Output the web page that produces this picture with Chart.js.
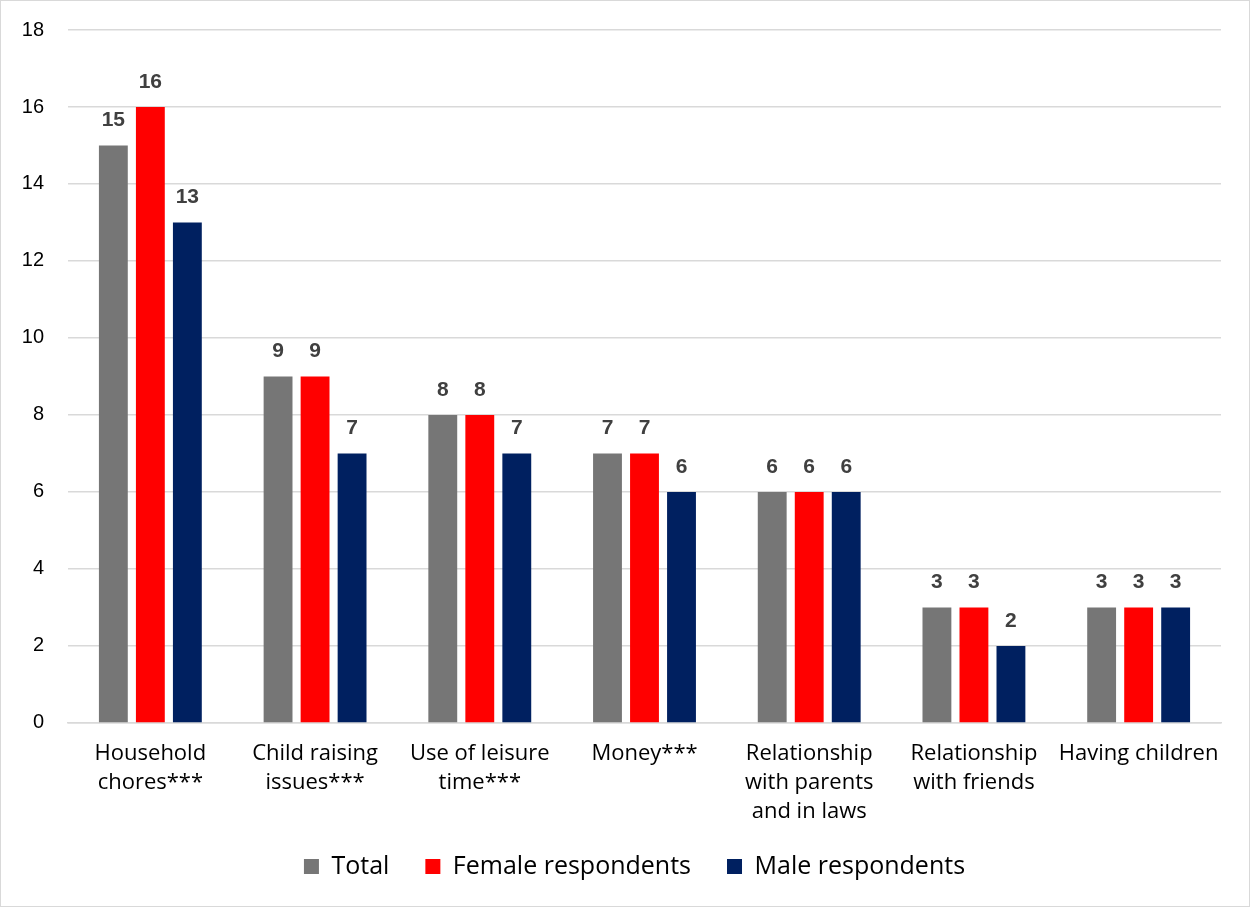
<!DOCTYPE html>
<html>
<head>
<meta charset="utf-8">
<script src="https://cdn.jsdelivr.net/npm/chart.js"></script>
<style>
  html, body { margin: 0; padding: 0; background: #fff; }
  .wrap { width: 1248px; height: 905px; border: 1px solid #d9d9d9; position: relative; }
</style>
</head>
<body>
<div class="wrap"><canvas id="chart" width="1248" height="905"></canvas></div>
<script>
const categories = [
  ["Household", "chores***"],
  ["Child raising", "issues***"],
  ["Use of leisure", "time***"],
  "Money***",
  ["Relationship", "with parents", "and in laws"],
  ["Relationship", "with friends"],
  "Having children"
];
const totalValues = [15, 9, 8, 7, 6, 3, 3];
const femaleValues = [16, 9, 8, 7, 6, 3, 3];
const maleValues = [13, 7, 7, 6, 6, 2, 3];

// value labels above bars
const barLabels = {
  id: "barLabels",
  afterDatasetsDraw(chart) {
    const ctx = chart.ctx;
    ctx.save();
    ctx.font = "bold 21px 'Liberation Sans', Arial, sans-serif";
    ctx.fillStyle = "#404040";
    ctx.textAlign = "center";
    ctx.textBaseline = "alphabetic";
    chart.data.datasets.forEach((ds, i) => {
      chart.getDatasetMeta(i).data.forEach((bar, j) => {
        ctx.fillText(ds.data[j], bar.x, bar.y - 19);
      });
    });
    ctx.restore();
  }
};

// nudge the legend right so it sits roughly under the plot area
const legendShift = {
  id: "legendShift",
  beforeDraw(chart) {
    const lg = chart.legend;
    if (!lg) return;
    const shift = (chart.chartArea.left + chart.chartArea.right) / 2 - (lg.left + lg.right) / 2 - 10;
    lg.left += shift;
    lg.right += shift;
  }
};

new Chart(document.getElementById("chart"), {
  type: "bar",
  data: {
    labels: categories,
    datasets: [
      { label: "Total", data: totalValues, backgroundColor: "#767676" },
      { label: "Female respondents", data: femaleValues, backgroundColor: "#ff0000" },
      { label: "Male respondents", data: maleValues, backgroundColor: "#002060" }
    ]
  },
  options: {
    responsive: false,
    animation: false,
    categoryPercentage: 0.674,
    barPercentage: 0.78,
    layout: { padding: { top: 29, right: 28, bottom: 17, left: 0 } },
    plugins: {
      legend: {
        position: "bottom",
        labels: {
          boxWidth: 15, boxHeight: 15, padding: 36,
          color: "#000",
          font: { family: "'Open Sans', sans-serif", size: 25 }
        }
      },
      tooltip: { enabled: false }
    },
    scales: {
      x: {
        afterFit(axis) { axis.height -= 16; },
        grid: { display: false },
        border: { color: "#d9d9d9", width: 1.5 },
        ticks: {
          color: "#000", maxRotation: 0, autoSkip: false, padding: 8,
          font: { family: "'Open Sans', sans-serif", size: 22, lineHeight: 1.32 }
        }
      },
      y: {
        min: 0, max: 18,
        afterFit(axis) { axis.width = 67; axis.paddingTop = 0; axis.paddingBottom = 0; },
        grid: { color: "#d9d9d9", lineWidth: 1.5, drawTicks: false },
        border: { display: false },
        ticks: {
          stepSize: 2, color: "#000", padding: 24,
          font: { family: "'Liberation Sans', Arial, sans-serif", size: 20 }
        }
      }
    }
  },
  plugins: [barLabels, legendShift]
});
</script>
</body>
</html>
